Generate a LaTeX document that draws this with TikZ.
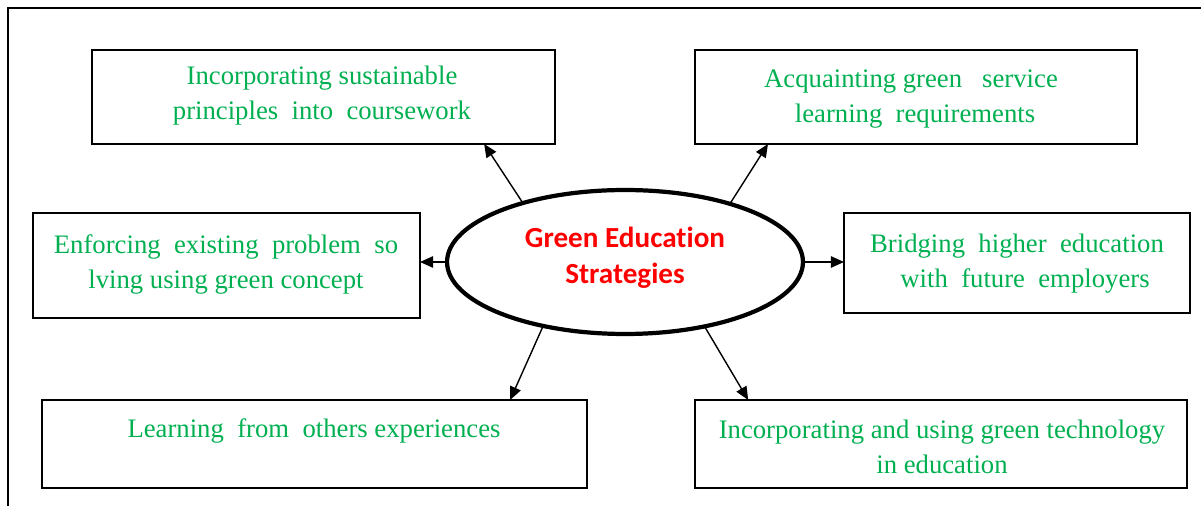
\documentclass[tikz,border=0pt]{standalone}
\usepackage{fontspec}
\setmainfont{Liberation Serif}
\newfontfamily\headfont[Ligatures=NoCommon]{Carlito}
\usetikzlibrary{shapes.geometric,arrows.meta,calc}
\definecolor{leafgreen}{RGB}{0,176,80}
\definecolor{hotred}{RGB}{255,0,0}
\begin{document}
\begin{tikzpicture}[x=0.02cm,y=-0.02cm,
  stratbox/.style={draw, line width=0.9pt, inner sep=0pt, outer sep=0pt},
  boxtext/.style={text=leafgreen, align=center, inner sep=0pt,
    font=\fontsize{15.2}{20}\selectfont},
  link/.style={line width=0.8pt, -{Triangle[length=7.5pt,width=6.5pt]}}
]
\useasboundingbox (0,0) rectangle (1201,506);
% outer frame (left and top edges)
\draw[line width=1.1pt] (8,520) -- (8,8) -- (1215,8);

% central ellipse
\node[ellipse, draw, line width=2.4pt, minimum width=7.12cm, minimum height=2.88cm,
      inner sep=0pt, outer sep=0pt] (g) at (625,262) {};
\node[text=hotred, align=center, font=\headfont\bfseries\fontsize{16.6}{20.5}\selectfont]
  (gt) at (625,258) {Green Education\\Strategies};

% strategy boxes
\node[stratbox, minimum width=9.26cm, minimum height=1.88cm] (b1) at (323.5,97) {};
\node[stratbox, minimum width=8.84cm, minimum height=1.88cm] (b2) at (916,97) {};
\node[stratbox, minimum width=7.74cm, minimum height=2.10cm] (b3) at (226.5,265.5) {};
\node[stratbox, minimum width=6.92cm, minimum height=2.00cm] (b4) at (1017,263) {};
\node[stratbox, minimum width=10.9cm, minimum height=1.76cm] (b5) at (314.5,444) {};
\node[stratbox, minimum width=9.84cm, minimum height=1.76cm] (b6) at (941,444) {};

% box labels
\node[boxtext] (t1) at (322,95.5) {Incorporating sustainable\\principles\ \ into\ \ coursework};
\node[boxtext] (t2) at (911,99) {Acquainting green\ \ \ service\\\hspace*{0.3em}learning\ \ requirements};
\node[boxtext] (t3) at (226,264.5) {Enforcing\ \ existing\ \ problem\ \ so\\lving using green concept};
\node[boxtext] (t4) at (1017,264) {Bridging\ \ higher\ \ education\\\hspace*{0.6em}with\ \ future\ \ employers};
\node[boxtext] (t5) at (314,431) {Learning\ \ from\ \ others experiences};
\node[boxtext] (t6) at (942,446.5) {Incorporating and using green technology\\in education};

% arrow end points on the box edges
\coordinate (e1) at ($(b1.south west)!0.847!(b1.south east)$);
\coordinate (e2) at ($(b2.south west)!0.165!(b2.south east)$);
\coordinate (e5) at ($(b5.north west)!0.859!(b5.north east)$);
\coordinate (e6) at ($(b6.north west)!0.108!(b6.north east)$);

% connectors
\draw[link] (g.150) -- (e1);
\draw[link] (g.29) -- (e2);
\draw[link] (g.west) -- (g.west -| b3.east);
\draw[link] (g.east) -- (g.east -| b4.west);
\draw[link] (g.218) -- (e5);
\draw[link] (g.321) -- (e6);
\end{tikzpicture}
\end{document}
